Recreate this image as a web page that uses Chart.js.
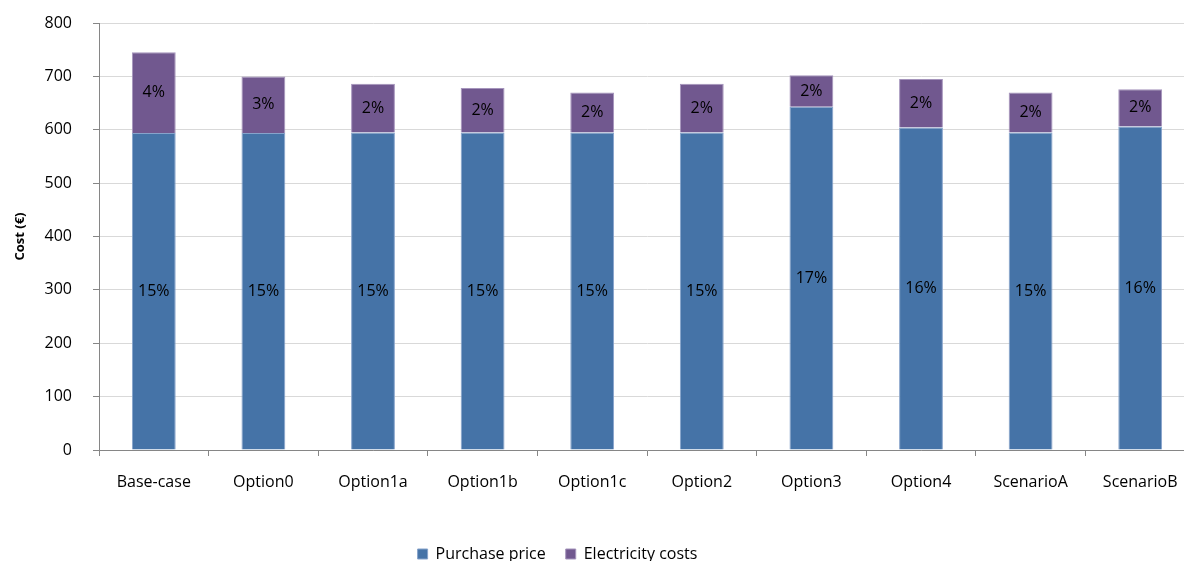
<!DOCTYPE html>
<html>
<head>
<meta charset="utf-8">
<script src="https://cdn.jsdelivr.net/npm/chart.js@4"></script>
<style>
  html, body { margin: 0; padding: 0; background: #fff; overflow: hidden; }
  #wrap { position: absolute; left: -80px; top: 0; width: 1280px; height: 572px; }
</style>
</head>
<body>
<div id="wrap"><canvas id="grafica"></canvas></div>
<script>
"use strict";

// categorias del eje X
const categorias = ["Base-case", "Option0", "Option1a", "Option1b", "Option1c",
                    "Option2", "Option3", "Option4", "ScenarioA", "ScenarioB"];

// valores (euros)
const precioCompra = [594, 594, 595, 595, 595, 595, 643, 604, 595, 606];
const costoElectricidad = [151, 106, 91, 83, 75, 91, 59, 91, 75, 70];

// etiquetas que se muestran dentro de cada barra
const etiquetasCompra = ["15%", "15%", "15%", "15%", "15%", "15%", "17%", "16%", "15%", "16%"];
const etiquetasElectricidad = ["4%", "3%", "2%", "2%", "2%", "2%", "2%", "2%", "2%", "2%"];

const ticksY = [0, 100, 200, 300, 400, 500, 600, 700, 800];

const fuente = "'Open Sans', 'Noto Sans', sans-serif";

// plugin chiquito para escribir los porcentajes en el medio de cada segmento
const etiquetasPlugin = {
    id: "etiquetasBarras",
    afterDatasetsDraw(chart) {
        const ctx = chart.ctx;
        const textos = [etiquetasCompra, etiquetasElectricidad];
        ctx.save();
        ctx.font = "16px " + fuente;
        ctx.fillStyle = "#000";
        ctx.textAlign = "center";
        ctx.textBaseline = "middle";
        chart.data.datasets.forEach((ds, i) => {
            const meta = chart.getDatasetMeta(i);
            meta.data.forEach((barra, j) => {
                const p = barra.getProps(["x", "y", "base"], true);
                ctx.fillText(textos[i][j], p.x, (p.y + p.base) / 2);
            });
        });
        ctx.restore();
    }
};

const ctx = document.getElementById("grafica").getContext("2d");

new Chart(ctx, {
    type: "bar",
    data: {
        labels: categorias,
        datasets: [
            {
                label: "Purchase price",
                data: precioCompra,
                backgroundColor: "#4573A7",
                borderColor: "#86A3CB",
                borderWidth: 1,
                categoryPercentage: 0.8,
                barPercentage: 0.5
            },
            {
                label: "Electricity costs",
                data: costoElectricidad,
                backgroundColor: "#71588F",
                borderColor: "#A594BC",
                borderWidth: 1,
                categoryPercentage: 0.8,
                barPercentage: 0.5
            }
        ]
    },
    options: {
        responsive: true,
        maintainAspectRatio: false,
        animation: false,
        events: [],
        layout: { padding: { left: 0, right: 5, top: 23, bottom: 0 } },
        scales: {
            x: {
                stacked: true,
                offset: true,
                grid: {
                    offset: true,
                    drawOnChartArea: false,
                    tickColor: "#868686",
                    tickLength: 6
                },
                border: { color: "#868686" },
                ticks: {
                    color: "#000",
                    padding: 17,
                    maxRotation: 0,
                    font: { family: fuente, size: 16 }
                },
                afterFit(scale) { scale.height = 76; }
            },
            y: {
                stacked: true,
                min: 0,
                max: 800,
                afterBuildTicks(scale) {
                    scale.ticks = ticksY.map(v => ({ value: v }));
                },
                grid: {
                    color: "#D9D9D9",
                    tickColor: "#868686",
                    tickLength: 6
                },
                border: { color: "#868686" },
                ticks: {
                    color: "#000",
                    padding: 21,
                    font: { family: fuente, size: 16 }
                },
                title: {
                    display: true,
                    text: "Cost (€)",
                    color: "#000",
                    font: { family: fuente, size: 13, weight: "bold" },
                    padding: { top: 92, bottom: 0 }
                },
                afterFit(scale) {
                    scale.width = 179;
                    scale.paddingTop = 0;
                    scale.paddingBottom = 0;
                }
            }
        },
        plugins: {
            legend: {
                position: "bottom",
                labels: {
                    boxWidth: 10,
                    boxHeight: 10,
                    padding: 20,
                    color: "#000",
                    font: { family: fuente, size: 16 }
                }
            },
            tooltip: { enabled: false }
        }
    },
    plugins: [etiquetasPlugin]
});
</script>
</body>
</html>
